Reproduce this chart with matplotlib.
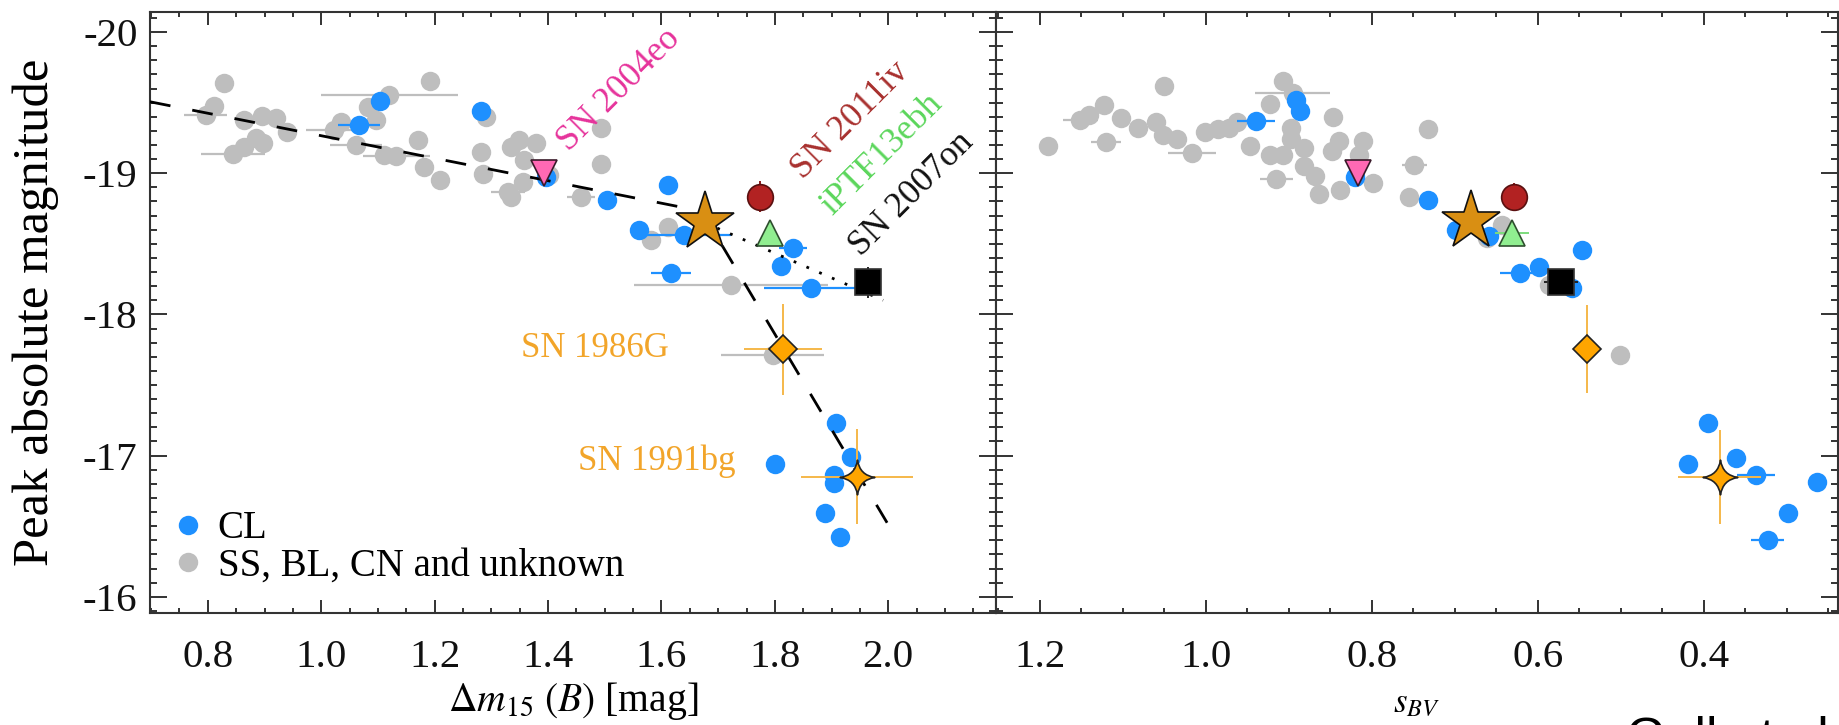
import matplotlib
matplotlib.use("Agg")
import matplotlib.pyplot as plt
from matplotlib.path import Path
from matplotlib.ticker import MultipleLocator, FuncFormatter

plt.rcParams['font.family'] = ['Liberation Serif', 'DejaVu Serif']
plt.rcParams['mathtext.fontset'] = 'stix'
plt.rcParams['axes.unicode_minus'] = False

# ---------------- LEFT PANEL DATA (Delta m15(B) vs peak magnitude) ----------------
gray_dm15 = [0.829, 0.811, 0.796, 0.864, 0.895, 0.920, 0.939, 0.844, 0.864, 0.885, 0.897,
             1.023, 1.035, 1.061, 1.082, 1.120, 1.191, 1.096, 1.111, 1.132, 1.170, 1.182,
             1.210, 1.291, 1.282, 1.285, 1.335, 1.349, 1.379, 1.329, 1.355, 1.358, 1.335,
             1.402, 1.494, 1.494, 1.458, 1.611, 1.582, 1.723, 1.796]
gray_mag_l = [-19.637, -19.476, -19.412, -19.377, -19.405, -19.389, -19.294, -19.136, -19.188,
              -19.247, -19.212, -19.306, -19.365, -19.200, -19.471, -19.554, -19.653, -19.377,
              -19.129, -19.124, -19.235, -19.046, -18.952, -19.400, -19.152, -18.992, -19.188,
              -19.235, -19.216, -18.869, -18.940, -19.093, -18.834, -18.987, -19.318, -19.065,
              -18.829, -18.621, -18.527, -18.208, -17.712]
gray_dm15_err = [0, 0, 0.038, 0, 0, 0, 0, 0.056, 0, 0, 0,
                 0.05, 0, 0.046, 0, 0.121, 0, 0, 0, 0.059, 0, 0,
                 0, 0, 0, 0, 0, 0, 0, 0.03, 0, 0, 0,
                 0, 0, 0, 0.024, 0, 0, 0.171, 0.091]

cl_dm15 = [1.104, 1.066, 1.282, 1.396, 1.504, 1.561, 1.611, 1.640, 1.617, 1.832, 1.811,
           1.864, 1.908, 1.801, 1.935, 1.905, 1.905, 1.889, 1.914]
cl_mag_l = [-19.513, -19.341, -19.443, -18.973, -18.810, -18.598, -18.916, -18.562, -18.291,
            -18.468, -18.343, -18.185, -17.229, -16.941, -16.988, -16.863, -16.804, -16.591,
            -16.426]
cl_dm15_err = [0, 0.037, 0, 0, 0, 0, 0, 0.083, 0.035, 0.024, 0,
               0.084, 0, 0, 0, 0, 0, 0, 0]

# ---------------- RIGHT PANEL DATA (s_BV vs peak magnitude) ----------------
gray_sbv = [1.190, 1.151, 1.140, 1.122, 1.120, 1.102, 1.082, 1.060, 1.050, 1.051, 1.034,
            1.016, 1.001, 0.985, 0.972, 0.962, 0.947, 0.923, 0.907, 0.895, 0.923, 0.907,
            0.897, 0.897, 0.881, 0.881, 0.868, 0.915, 0.864, 0.847, 0.839, 0.848, 0.838,
            0.810, 0.815, 0.799, 0.732, 0.749, 0.755, 0.643, 0.661, 0.587, 0.501]
gray_mag_r = [-19.19, -19.38, -19.41, -19.48, -19.22, -19.39, -19.32, -19.36, -19.62, -19.27,
              -19.24, -19.14, -19.29, -19.31, -19.32, -19.36, -19.19, -19.49, -19.65, -19.57,
              -19.13, -19.13, -19.32, -19.24, -19.18, -19.05, -18.98, -18.96, -18.85, -19.40,
              -19.23, -19.16, -18.88, -19.23, -19.13, -18.93, -19.31, -19.06, -18.83, -18.63,
              -18.54, -18.21, -17.71]
gray_sbv_err = [0, 0.021, 0, 0, 0.018, 0, 0, 0, 0, 0, 0,
                0.029, 0, 0, 0, 0, 0, 0, 0, 0.045, 0, 0,
                0, 0, 0, 0, 0, 0.02, 0, 0, 0, 0, 0,
                0, 0, 0, 0, 0.015, 0, 0, 0, 0, 0]

cl_sbv = [0.939, 0.891, 0.886, 0.820, 0.732, 0.699, 0.659, 0.547, 0.598, 0.621, 0.559,
          0.395, 0.419, 0.361, 0.337, 0.263, 0.299, 0.323]
cl_mag_r = [-19.37, -19.52, -19.44, -18.97, -18.81, -18.60, -18.555, -18.456, -18.338,
            -18.291, -18.185, -17.23, -16.94, -16.98, -16.86, -16.81, -16.59, -16.40]
cl_sbv_err = [0.023, 0, 0, 0, 0, 0, 0, 0, 0, 0.024, 0,
              0, 0, 0, 0.023, 0, 0, 0.02]

# ---------------- Comparison objects ----------------
sp_names = ['SN 2004eo', 'SN 2011iv', 'iPTF13ebh', 'SN 2007on', 'SN 1986G', 'SN 1991bg']
sp_dm15 = [1.392, 1.773, 1.792, 1.964, 1.814, 1.945]
sp_mag_l = [-19.00, -18.834, -18.574, -18.227, -17.753, -16.851]
sp_dm15_err = [0, 0, 0, 0, 0.069, 0.099]
sp_mag_l_err = [0, 0.11, 0, 0.11, 0.324, 0.336]
sp_sbv = [0.817, 0.628, 0.631, 0.572, 0.541, 0.381]
sp_mag_r = [-19.00, -18.834, -18.574, -18.232, -17.755, -16.848]
sp_sbv_err = [0, 0, 0.02, 0.02, 0, 0.05]
sp_mag_r_err = [0, 0.10, 0, 0, 0.31, 0.33]

# the new object (star)
star_dm15, star_mag_l = 1.676, -18.657
star_sbv, star_mag_r = 0.681, -18.664

# fits
fit_dm15 = [0.698, 1.671, 2.003]
fit_mag = [-19.506, -18.731, -16.49]
dot_dm15 = [1.676, 1.991]
dot_mag = [-18.65, -18.10]

# ---------------- styles ----------------
BLUE = '#1E90FF'
GRAY = '#BEBEBE'
ORANGE = '#FFA500'
ORANGE_ERR = '#F5B84A'

four_star = Path([(0, 1), (0.13, 0.13), (1, 0), (0.13, -0.13), (0, -1),
                  (-0.13, -0.13), (-1, 0), (-0.13, 0.13), (0, 1), (0, 1)],
                 [Path.MOVETO, Path.CURVE3, Path.CURVE3, Path.CURVE3, Path.CURVE3,
                  Path.CURVE3, Path.CURVE3, Path.CURVE3, Path.CURVE3, Path.CLOSEPOLY])

sp_style = [
    dict(marker='v', ms=19, mfc='#FF69B4', mec='#3a1a2a', ecolor='#FF69B4'),
    dict(marker='o', ms=18.5, mfc='#B22222', mec='#5a1010', ecolor='#8a1a1a'),
    dict(marker='^', ms=19, mfc='#90EE90', mec='#2f4f2f', ecolor='#7CDC7C'),
    dict(marker='s', ms=19, mfc='#000000', mec='#333333', ecolor='#222222'),
    dict(marker='D', ms=14.5, mfc=ORANGE, mec='#222222', ecolor=ORANGE_ERR),
    dict(marker=four_star, ms=25, mfc=ORANGE, mec='#222222', ecolor=ORANGE_ERR),
]

W, H = 1839, 725
fig = plt.figure(figsize=(W / 100, H / 100), dpi=100)
axL = fig.add_axes([150 / W, (H - 612.7) / H, 846 / W, 601 / H])
axR = fig.add_axes([996 / W, (H - 612.7) / H, 842 / W, 601 / H])

MS = 14


def draw(ax, gx, gy, gxe, cx, cy, cxe, sx, sy, sxe, sye, stx, sty):
    ax.errorbar(gx, gy, xerr=gxe, fmt='none', ecolor=GRAY, elinewidth=1.6, zorder=1)
    ax.plot(gx, gy, 'o', ms=MS, color=GRAY, mec='none', zorder=2,
            label='SS, BL, CN and unknown')
    ax.errorbar(cx, cy, xerr=cxe, fmt='none', ecolor=BLUE, elinewidth=1.6, zorder=3)
    ax.plot(cx, cy, 'o', ms=MS, color=BLUE, mec='none', zorder=4, label='CL')
    for i in range(len(sx)):
        st = sp_style[i]
        ax.errorbar([sx[i]], [sy[i]], xerr=[sxe[i]], yerr=[sye[i]], fmt='none',
                    ecolor=st['ecolor'], elinewidth=1.4, zorder=6)
        ax.plot([sx[i]], [sy[i]], linestyle='none', marker=st['marker'], ms=st['ms'],
                mfc=st['mfc'], mec=st['mec'], mew=1.2, zorder=8)
    ax.plot([stx], [sty], linestyle='none', marker='*', ms=44, mfc='#D98F13',
            mec='#111111', mew=1.2, zorder=9)


draw(axL, gray_dm15, gray_mag_l, gray_dm15_err, cl_dm15, cl_mag_l, cl_dm15_err,
     sp_dm15, sp_mag_l, sp_dm15_err, sp_mag_l_err, star_dm15, star_mag_l)
draw(axR, gray_sbv, gray_mag_r, gray_sbv_err, cl_sbv, cl_mag_r, cl_sbv_err,
     sp_sbv, sp_mag_r, sp_sbv_err, sp_mag_r_err, star_sbv, star_mag_r)

# fit lines on the left panel
axL.plot(fit_dm15, fit_mag, color='black', lw=2.0, linestyle=(0, (7.5, 8)), zorder=5)
axL.plot(dot_dm15, dot_mag, color='black', lw=2.0, linestyle=(0, (1, 4)), zorder=5)

# axes limits and ticks
axL.set_xlim(0.698, 2.19)
axR.set_xlim(1.2526, 0.2383)
for ax in (axL, axR):
    ax.set_ylim(-15.887, -20.144)
    ax.yaxis.set_major_locator(MultipleLocator(1))
    ax.yaxis.set_minor_locator(MultipleLocator(0.1))
    ax.xaxis.set_major_locator(MultipleLocator(0.2))
    ax.xaxis.set_minor_locator(MultipleLocator(0.05))
    ax.xaxis.set_major_formatter(FuncFormatter(lambda v, p: f'{v:.1f}'))
    ax.tick_params(which='both', direction='in', top=True, right=True,
                   width=1.4, color='#333333', labelcolor='#111111')
    ax.tick_params(axis='y', which='major', length=12, pad=9, labelsize=29.5)
    ax.tick_params(axis='y', which='minor', length=5.3)
    ax.tick_params(axis='x', which='major', length=9.5, pad=19, labelsize=29.5)
    ax.tick_params(axis='x', which='minor', length=3.6)
    for s in ax.spines.values():
        s.set_linewidth(1.5)
        s.set_color('#333333')

axL.yaxis.set_major_formatter(FuncFormatter(lambda v, p: f'{v:.0f}'))
axR.tick_params(axis='y', labelleft=False)

# labels
axL.set_ylabel('Peak absolute magnitude', fontsize=36.5, va='baseline')
axL.yaxis.set_label_coords(-0.1206, 0.5)
axL.set_xlabel(r'$\Delta m_{15}\ (B)$ [mag]', fontsize=28.5, va='baseline')
axL.xaxis.set_label_coords(0.5, -0.164)
axR.set_xlabel(r'$s_{BV}$', fontsize=25, va='baseline')
axR.xaxis.set_label_coords(0.5, -0.165)

# legend
h, l = axL.get_legend_handles_labels()
order = [l.index('CL'), l.index('SS, BL, CN and unknown')]
axL.legend([h[i] for i in order], [l[i] for i in order], loc='lower left',
           bbox_to_anchor=(0.028, 0.047), frameon=False, fontsize=28,
           handlelength=0.75, handletextpad=0.38, borderpad=0, borderaxespad=0,
           labelspacing=0.0, numpoints=1)

# object annotations
rot_text = [('SN 2004eo', 1.525, -19.589, '#E6339B'),
            ('SN 2011iv', 1.933, -19.371, '#A8302E'),
            ('iPTF13ebh', 1.989, -19.135, '#5BD65B'),
            ('SN 2007on', 2.042, -18.851, '#111111')]
for t, x, y, c in rot_text:
    axL.text(x, y, t, color=c, fontsize=25.5, rotation=45, ha='center', va='center',
             rotation_mode='anchor', zorder=10)
axL.text(1.613, -17.700, 'SN 1986G', color='#F2A52A', fontsize=25, ha='right',
         va='baseline', zorder=10)
axL.text(1.731, -16.898, 'SN 1991bg', color='#F2A52A', fontsize=25, ha='right',
         va='baseline', zorder=10)

# citation fragment at the bottom right (cut by the figure edge, as in the source)
fig.text(1626 / W, (H - 753) / H, 'Gall et al.', fontsize=37,
         family=['Liberation Sans', 'DejaVu Sans'], color='black', va='baseline')

fig.savefig('out.png', dpi=100)
